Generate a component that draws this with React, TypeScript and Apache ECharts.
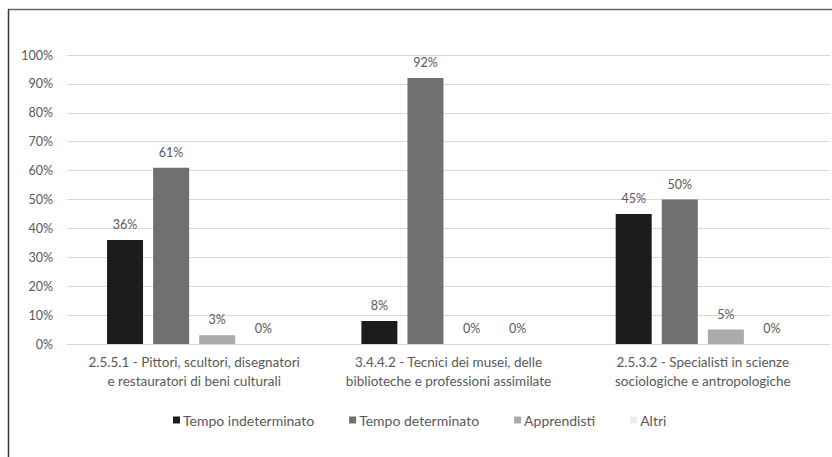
import React, { useEffect, useRef } from "react";
import * as echarts from "echarts";

const categories = [
  "2.5.5.1 - Pittori, scultori, disegnatori\ne restauratori di beni culturali",
  "3.4.4.2 - Tecnici dei musei, delle\nbiblioteche e professioni assimilate",
  "2.5.3.2 - Specialisti in scienze\nsociologiche e antropologiche",
];
const seriesNames = ["Tempo indeterminato", "Tempo determinato", "Apprendisti", "Altri"];
const tempoIndeterminato = [36, 8, 45];
const tempoDeterminato = [61, 92, 50];
const apprendisti = [3, 0, 5];
const altri = [0, 0, 0];
const yTicks = [0, 10, 20, 30, 40, 50, 60, 70, 80, 90, 100];

const colors = ["#1c1c1c", "#707070", "#ababab", "#ececec"];
const FONT = "Lato, 'Open Sans', sans-serif";

export default function App() {
  const ref = useRef<HTMLDivElement>(null);
  useEffect(() => {
    if (!ref.current) return;
    const chart = echarts.init(ref.current, undefined, { renderer: "svg" });
    const values = [tempoIndeterminato, tempoDeterminato, apprendisti, altri];
    chart.setOption({
      animation: false,
      backgroundColor: "#ffffff",
      textStyle: { fontFamily: FONT },
      grid: { left: 67, right: 2, top: 55, bottom: 113, containLabel: false },
      legend: {
        bottom: 25,
        left: 168,
        itemWidth: 7,
        itemHeight: 7,
        itemGap: 35,
        icon: "rect",
        textStyle: { color: "#595959", fontSize: 14, fontFamily: FONT, padding: [0, 0, 0, -2] },
        data: seriesNames,
      },
      xAxis: {
        type: "category",
        data: categories,
        axisLine: { lineStyle: { color: "#d9d9d9", width: 1 } },
        axisTick: { show: false },
        axisLabel: {
          color: "#595959",
          fontSize: 13.5,
          lineHeight: 19,
          margin: 8,
          interval: 0,
          fontFamily: FONT,
        },
      },
      yAxis: {
        type: "value",
        min: yTicks[0],
        max: yTicks[yTicks.length - 1],
        interval: 10,
        axisLine: { show: false },
        axisTick: { show: false },
        splitLine: { lineStyle: { color: "#d9d9d9", width: 1 } },
        axisLabel: {
          color: "#595959",
          fontSize: 12.5,
          margin: 14,
          formatter: "{value}%",
          fontFamily: FONT,
        },
      },
      series: seriesNames.map((name, i) => ({
        name,
        type: "bar",
        data: values[i],
        barWidth: 36,
        barGap: "28%",
        itemStyle: { color: colors[i] },
        label: {
          show: true,
          position: "top",
          distance: 9,
          formatter: "{c}%",
          color: "#595959",
          fontSize: 12.5,
          fontFamily: FONT,
        },
      })),
      graphic: [
        {
          type: "line",
          shape: { x1: 8, y1: 9.5, x2: 832, y2: 9.5 },
          style: { stroke: "#6a6a6a", lineWidth: 1.5 },
        },
        {
          type: "line",
          shape: { x1: 8.5, y1: 9, x2: 8.5, y2: 457 },
          style: { stroke: "#3a3a3a", lineWidth: 1.5 },
        },
      ],
    });
    return () => chart.dispose();
  }, []);
  return (
    <div
      ref={ref}
      style={{ position: "fixed", left: 0, top: 0, width: 832, height: 457 }}
    />
  );
}
